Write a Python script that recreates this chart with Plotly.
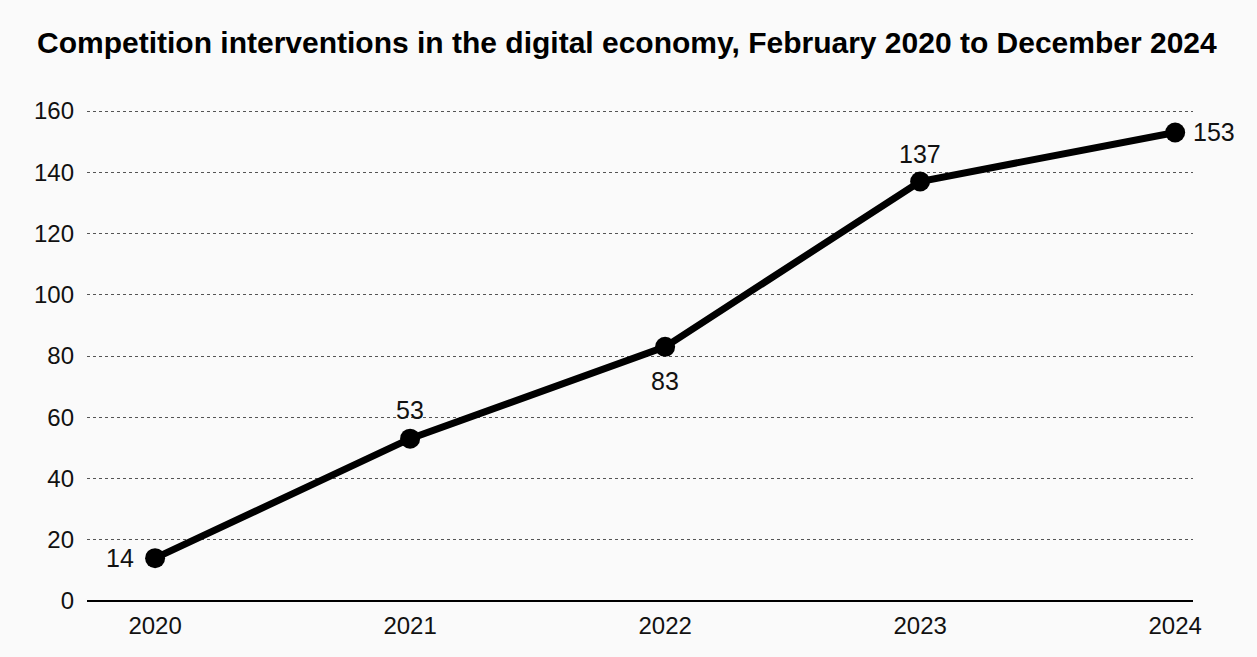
import plotly.graph_objects as go

years = [2020, 2021, 2022, 2023, 2024]
values = [14, 53, 83, 137, 153]
label_shift_x = [-35, 0, 0, 0, 39]
label_shift_y = [0, 29, -34, 27, 0]
y_ticks = [0, 20, 40, 60, 80, 100, 120, 140, 160]

FONT = "Liberation Sans Narrow, Arial Narrow, Liberation Sans, Arial, sans-serif"

fig = go.Figure()
fig.add_trace(go.Scatter(
    x=years, y=values, mode="lines+markers",
    line=dict(color="#000000", width=7),
    marker=dict(color="#000000", size=20),
    cliponaxis=False, showlegend=False,
))

for x, y, dx, dy in zip(years, values, label_shift_x, label_shift_y):
    fig.add_annotation(x=x, y=y, text=str(y), showarrow=False, xshift=dx, yshift=dy,
                       font=dict(family=FONT, size=25, color="#111111"))

fig.update_layout(
    width=1257, height=657,
    paper_bgcolor="#fafafa", plot_bgcolor="#fafafa",
    margin=dict(l=87, r=64, t=110, b=56),
    title=dict(text="<b>Competition interventions in the digital economy, February 2020 to December 2024</b>",
               x=37/1257, xanchor="left", y=1-42/657, yanchor="middle",
               font=dict(family="Liberation Sans, Arial, sans-serif", size=30, color="#000000")),
    xaxis=dict(range=[2020 - 0.267, 2024 + 0.07], tickvals=years, ticktext=[str(y) for y in years],
               showgrid=False, zeroline=False, showline=False, ticks="", ticklabelstandoff=8,
               tickfont=dict(family=FONT, size=24, color="#111111")),
    yaxis=dict(range=[0, 160.33], tickvals=y_ticks, showgrid=True, gridcolor="#555555",
               griddash="dot", gridwidth=1, zeroline=True, zerolinecolor="#000000", zerolinewidth=2,
               showline=False, ticks="", ticklabelstandoff=12,
               tickfont=dict(family=FONT, size=24, color="#111111")),
)
fig.write_html("out.html")
